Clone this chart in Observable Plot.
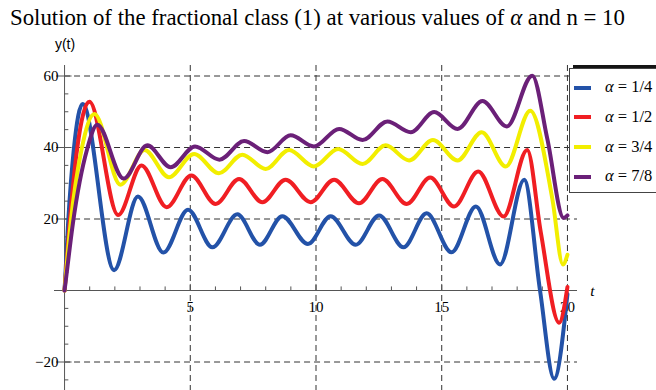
<!DOCTYPE html>
<html>
<head>
<meta charset="utf-8">
<script src="https://cdn.jsdelivr.net/npm/d3@7"></script>
<script src="https://cdn.jsdelivr.net/npm/@observablehq/plot@0.6"></script>
<style>
  body { margin: 0; background: #fff; }
  #wrap { position: relative; width: 656px; height: 390px; overflow: hidden; background: #fff; }
  #title { position: absolute; left: 10px; top: 7px; font-family: "Liberation Serif", "Times New Roman", serif; font-size: 22.8px; line-height: 1; white-space: nowrap; color: #000; }
  #chart { position: absolute; left: 0; top: 32px; }
  #lbox { position: absolute; left: 569px; top: 68px; width: 100px; height: 123px; border: 1px solid #444; background: #fff; }
  #lbar { position: absolute; left: 573px; top: 65px; width: 90px; height: 4px; background: #151515; }
  .sw { position: absolute; left: 574px; width: 17px; height: 4px; }
  .lt { position: absolute; left: 605px; font-family: "Liberation Serif", "Times New Roman", serif; font-size: 16.5px; line-height: 16px; white-space: nowrap; color: #000; }
</style>
</head>
<body>
<div id="wrap">
  <div id="title">Solution of the fractional class (1) at various values of <i>α</i> and n = 10</div>
  <div id="chart"></div>
  <div id="lbar"></div>
  <div id="lbox"></div>
  <div id="legend"></div>
</div>
<script>
// ---- data ----
const seriesNames = ["α=1/4", "α=1/2", "α=3/4", "α=7/8"];
const seriesColors = ["#2352a8", "#f01e23", "#f2ee00", "#6b2078"];

const tA14 = [0, 0.14, 0.37, 0.72, 1.97, 2.92, 3.93, 4.91, 5.88, 6.87, 7.77, 8.66, 9.68, 10.58, 11.58, 12.51, 13.48, 14.40, 15.39, 16.36, 17.32, 18.28, 18.91, 19.47, 20];
const yA14 = [0, 18.7, 39.6, 52.2, 5.7, 26.3, 10.6, 22.6, 12.1, 21.3, 12.8, 20.8, 13.0, 20.8, 12.8, 21.0, 12.1, 21.6, 10.7, 23.5, 7.3, 31.0, 0, -24.7, -1];

const tA12 = [0, 0.2, 0.5, 0.99, 2.13, 3.06, 4.06, 5.04, 6.01, 6.94, 7.87, 8.79, 9.79, 10.72, 11.71, 12.64, 13.61, 14.54, 15.49, 16.45, 17.46, 18.40, 18.94, 19.67, 20];
const yA12 = [0, 18.7, 39.6, 52.8, 21.1, 35.0, 23.3, 32.2, 24.2, 31.2, 24.7, 31.0, 24.7, 31.0, 24.4, 31.2, 24.2, 31.6, 23.5, 33.3, 20.7, 39.3, 16.3, -9.0, 1];

const tA34 = [0, 0.24, 0.68, 1.19, 2.22, 3.18, 4.15, 5.15, 6.14, 7.07, 8.0, 8.93, 9.92, 10.88, 11.85, 12.77, 13.70, 14.65, 15.63, 16.59, 17.55, 18.52, 19.4, 19.82, 20];
const yA34 = [0, 18.7, 39.6, 49.4, 29.6, 39.3, 31.7, 38.2, 32.8, 38.0, 34.0, 39.3, 34.7, 39.6, 35.4, 40.6, 36.4, 42.1, 36.4, 44.3, 34.7, 50.3, 25.6, 7.3, 10];

const tA78 = [0, 0.08, 0.33, 0.9, 1.30, 2.35, 3.29, 4.22, 5.19, 6.16, 7.14, 8.07, 8.99, 9.92, 10.92, 11.85, 12.84, 13.77, 14.70, 15.63, 16.62, 17.59, 18.6, 19.2, 19.85, 20];
const yA78 = [0, 4.6, 18.7, 39.6, 46.4, 31.3, 40.6, 34.5, 40.3, 36.6, 41.8, 38.7, 43.4, 40.3, 45.2, 42.1, 47.3, 44.3, 49.9, 45.2, 53.0, 45.9, 60.1, 42.4, 20.3, 21];

const xTicks = [5, 10, 15, 20];
const yTicks = [-20, 20, 40, 60];
const xMinor = [1, 2, 3, 4, 6, 7, 8, 9, 11, 12, 13, 14, 16, 17, 18, 19];
const yMinor = [-25, -15, -10, -5, 5, 10, 15, 25, 30, 35, 45, 50, 55];

// ---- build table ----
const seriesT = [tA14, tA12, tA34, tA78];
const seriesY = [yA14, yA12, yA34, yA78];
const rows = [];
seriesNames.forEach((name, i) => {
  seriesT[i].forEach((t, j) => rows.push({ t, y: seriesY[i][j], s: name }));
});

const serif = "Liberation Serif, Times New Roman, serif";
const axisColor = "#555";
const gridColor = "#333";

const chart = Plot.plot({
  width: 656,
  height: 358,
  marginLeft: 54,
  marginRight: 79,
  marginTop: 33,
  marginBottom: 0,
  style: { background: "transparent", overflow: "visible" },
  x: { domain: [-0.4, 20.4], axis: null },
  y: { domain: [-27.97, 62.94], axis: null },
  color: { domain: seriesNames, range: seriesColors },
  marks: [
    // dashed grid
    Plot.ruleY(yTicks, { x1: 0, x2: 20.4, stroke: gridColor, strokeWidth: 1, strokeDasharray: "6,4" }),
    Plot.ruleX(xTicks, { stroke: gridColor, strokeWidth: 1, strokeDasharray: "6,4" }),
    // axes
    Plot.ruleY([0], { stroke: axisColor, strokeWidth: 1 }),
    Plot.ruleX([0], { stroke: axisColor, strokeWidth: 1 }),
    // ticks
    Plot.ruleX(xMinor, { y1: 0, y2: 1.0, stroke: axisColor }),
    Plot.ruleX(xTicks, { y1: 0, y2: 1.7, stroke: axisColor }),
    Plot.ruleY(yMinor, { x1: 0, x2: 0.17, stroke: axisColor }),
    Plot.ruleY(yTicks, { x1: -0.32, x2: 0.3, stroke: axisColor }),
    // tick labels
    Plot.text(yTicks, { x: 0, y: d => d, text: d => d < 0 ? "\u2212" + (-d) : String(d), textAnchor: "end", lineAnchor: "middle", dx: -6, fontSize: 15, fontFamily: serif, fill: "#000" }),
    Plot.text(xTicks, { x: d => d, y: 0, text: d => String(d), textAnchor: "middle", lineAnchor: "middle", dy: 17, fontSize: 15, fontFamily: serif, fill: "#000" }),
    // axis labels
    Plot.text(["t"], { y: 0, frameAnchor: "right", dx: 17, dy: 1, text: d => d, fontSize: 15.5, fontStyle: "italic", fontFamily: serif, fill: "#000", lineAnchor: "middle" }),
    Plot.text(["y(t)"], { frameAnchor: "top-left", dx: 10.5, dy: -21, text: d => d, textAnchor: "middle", lineAnchor: "middle", fontSize: 14, fontFamily: "Liberation Sans, Arial, sans-serif", fill: "#000" }),
    // curves
    Plot.line(rows, { x: "t", y: "y", z: "s", stroke: "s", strokeWidth: 4, curve: "monotone-x" })
  ]
});
document.getElementById("chart").appendChild(chart);

// legend
const legend = document.getElementById("legend");
const legendTop = 87.5, legendStep = 29.8;
seriesNames.forEach((name, i) => {
  const cy = legendTop + i * legendStep;
  const sw = document.createElement("div");
  sw.className = "sw";
  sw.style.top = (cy - 2) + "px";
  sw.style.background = seriesColors[i];
  legend.appendChild(sw);
  const lt = document.createElement("div");
  lt.className = "lt";
  lt.style.top = (cy - 8.5) + "px";
  const parts = name.split("=");
  lt.innerHTML = "<i>" + parts[0] + "</i> = " + parts[1];
  legend.appendChild(lt);
});
</script>
</body>
</html>
